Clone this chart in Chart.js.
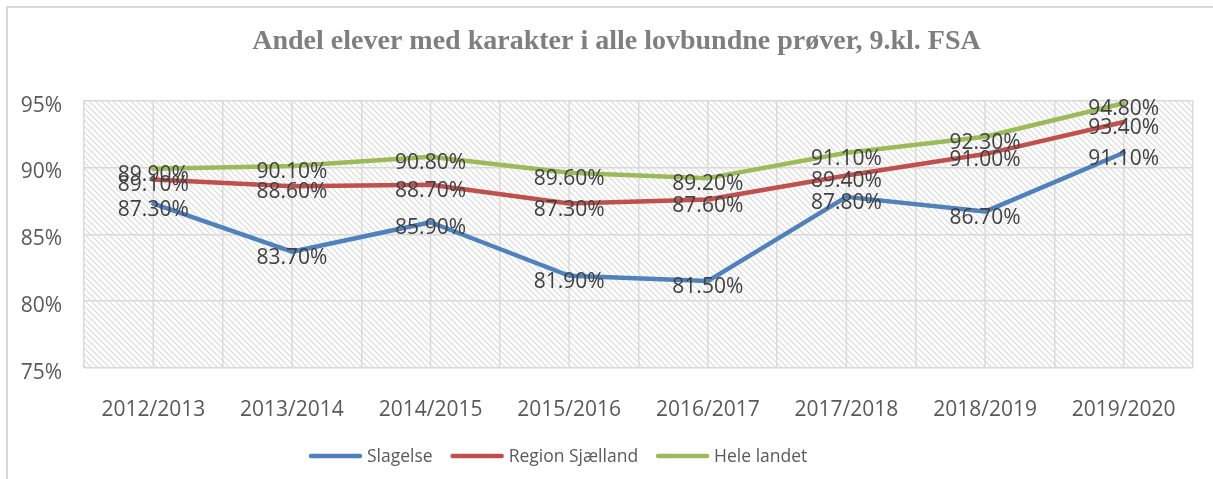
<!DOCTYPE html>
<html>
<head>
<meta charset="utf-8">
<script src="https://cdn.jsdelivr.net/npm/chart.js@4"></script>
<style>
html,body{margin:0;padding:0;background:#fff;}
#wrap{width:1213px;height:479px;position:relative;}
</style>
</head>
<body>
<div id="wrap"><canvas id="c" width="1213" height="479"></canvas></div>
<script>
const categories = ['2012/2013','2013/2014','2014/2015','2015/2016','2016/2017','2017/2018','2018/2019','2019/2020'];
const slagelse = [87.3, 83.7, 85.9, 81.9, 81.5, 87.8, 86.7, 91.1];
const regionSjaelland = [89.1, 88.6, 88.7, 87.3, 87.6, 89.4, 91.0, 93.4];
const heleLandet = [89.9, 90.1, 90.8, 89.6, 89.2, 91.1, 92.3, 94.8];
const yTicks = [75, 80, 85, 90, 95];
const titleText = 'Andel elever med karakter i alle lovbundne prøver, 9.kl. FSA';
const seriesNames = ['Slagelse', 'Region Sjælland', 'Hele landet'];

function makeHatch(){
  const p = 6;
  const c = document.createElement('canvas');
  c.width = p; c.height = p;
  const g = c.getContext('2d');
  g.fillStyle = '#ffffff'; g.fillRect(0,0,p,p);
  g.strokeStyle = '#dadada'; g.lineWidth = 1.2;
  g.beginPath();
  g.moveTo(-1,-1); g.lineTo(p+1,p+1);
  g.moveTo(-1,p-1); g.lineTo(1,p+1);
  g.moveTo(p-1,-1); g.lineTo(p+1,1);
  g.stroke();
  return c;
}

const bgPlugin = {
  id: 'bgPlugin',
  beforeDraw(chart){
    const ctx = chart.ctx;
    ctx.save();
    ctx.fillStyle = '#fff';
    ctx.fillRect(0,0,chart.width,chart.height);
    ctx.strokeStyle = '#d9d9d9';
    ctx.lineWidth = 2;
    ctx.strokeRect(7, 7, chart.width + 20, chart.height + 20);
    const a = chart.chartArea;
    const pat = ctx.createPattern(makeHatch(), 'repeat');
    ctx.fillStyle = pat;
    ctx.fillRect(a.left, a.top, a.right - a.left, a.bottom - a.top);
    ctx.restore();
  },
  beforeDatasetsDraw(chart){
    const ctx = chart.ctx, xs = chart.scales.x, a = chart.chartArea;
    ctx.save();
    ctx.strokeStyle = '#d9d9d9';
    ctx.lineWidth = 1.5;
    categories.forEach((c, i) => {
      const x = xs.getPixelForValue(i);
      ctx.beginPath(); ctx.moveTo(x, a.top); ctx.lineTo(x, a.bottom); ctx.stroke();
    });
    ctx.restore();
  }
};

const labelPlugin = {
  id: 'labelPlugin',
  afterDatasetsDraw(chart){
    const ctx = chart.ctx;
    ctx.save();
    ctx.font = '21px "Open Sans"';
    ctx.fillStyle = '#404040';
    ctx.textAlign = 'center';
    ctx.textBaseline = 'middle';
    chart.data.datasets.forEach((ds, di) => {
      const meta = chart.getDatasetMeta(di);
      meta.data.forEach((pt, i) => {
        ctx.fillText(ds.data[i].toFixed(2) + '%', pt.x, pt.y + 6);
      });
    });
    ctx.restore();
  },
  afterDraw(chart){
    const ctx = chart.ctx;
    ctx.save();
    ctx.font = '17.5px "Open Sans"';
    ctx.textBaseline = 'middle';
    ctx.textAlign = 'left';
    let x = 311;
    const y = 457;
    chart.data.datasets.forEach(ds => {
      ctx.strokeStyle = ds.borderColor;
      ctx.lineWidth = 4.5;
      ctx.lineCap = 'round';
      ctx.beginPath(); ctx.moveTo(x, y - 1); ctx.lineTo(x + 49, y - 1); ctx.stroke();
      ctx.fillStyle = '#595959';
      ctx.fillText(ds.label, x + 56, y);
      x = x + 56 + ctx.measureText(ds.label).width + 20;
    });
    ctx.restore();
  }
};

const colors = ['#4f81bd', '#c0504d', '#9bbb59'];
const seriesData = [slagelse, regionSjaelland, heleLandet];

new Chart(document.getElementById('c'), {
  type: 'line',
  data: {
    labels: categories,
    datasets: seriesData.map((d, i) => ({
      label: seriesNames[i],
      data: d,
      borderColor: colors[i],
      backgroundColor: colors[i],
      borderWidth: 4.5,
      borderCapStyle: 'round',
      borderJoinStyle: 'round',
      pointRadius: 0,
      pointHoverRadius: 0,
      tension: 0,
      fill: false
    }))
  },
  options: {
    responsive: false,
    animation: false,
    devicePixelRatio: 1,
    events: [],
    layout: { padding: { left: 20, right: 0, top: 0, bottom: 47 } },
    plugins: {
      title: {
        display: true,
        text: titleText,
        color: '#7f7f7f',
        font: { family: '"Liberation Serif"', size: 28, weight: 'bold' },
        padding: { top: 25, bottom: 42 }
      },
      legend: { display: false },
      tooltip: { enabled: false }
    },
    scales: {
      x: {
        offset: true,
        grid: { offset: true, color: '#d9d9d9', lineWidth: 1.5, drawTicks: false },
        border: { display: false },
        ticks: { color: '#595959', font: { family: '"Open Sans"', size: 21 }, padding: 29, maxRotation: 0 },
        afterFit(s){ s.height = 64; }
      },
      y: {
        min: 75, max: 95,
        afterBuildTicks(s){ s.ticks = yTicks.map(v => ({ value: v })); },
        grid: { color: '#d9d9d9', lineWidth: 1.5, drawTicks: false },
        border: { display: false },
        ticks: {
          color: '#595959',
          font: { family: '"Open Sans"', size: 21 },
          padding: 22,
          labelOffset: 5,
          callback: v => v + '%'
        },
        afterFit(s){ s.width = 64; }
      },
      yRight: {
        position: 'right',
        display: true,
        grid: { display: false, drawTicks: false },
        border: { display: false },
        ticks: { display: false },
        afterFit(s){ s.width = 20; }
      }
    }
  },
  plugins: [bgPlugin, labelPlugin]
});
</script>
</body>
</html>
